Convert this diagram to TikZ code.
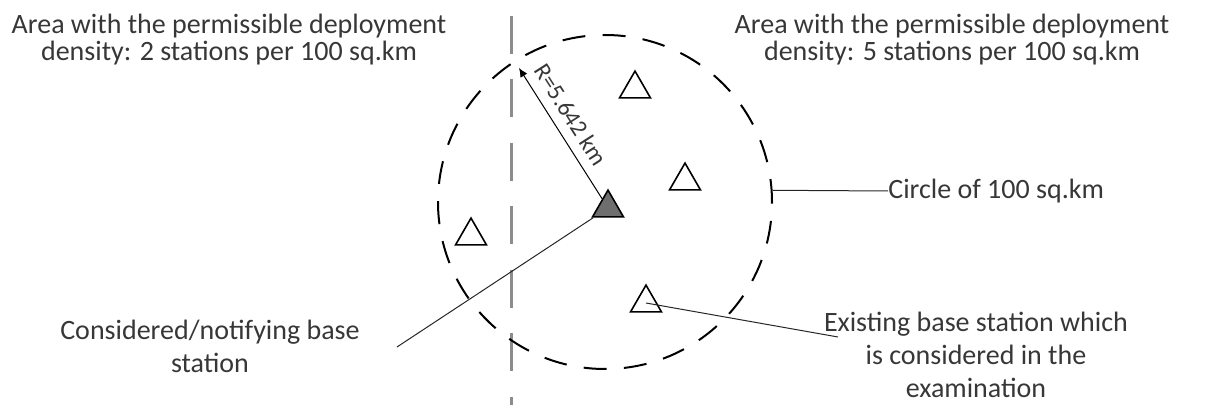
\documentclass[tikz,border=0pt]{standalone}
\usepackage{fontspec}
\setmainfont{Carlito}
\usepackage{xcolor}
\usetikzlibrary{arrows.meta,shapes.geometric,calc}

\definecolor{textgray}{RGB}{55,55,55}
\definecolor{bordergray}{RGB}{140,140,140}
\definecolor{stationfill}{RGB}{110,110,110}

\begin{document}
\begin{tikzpicture}[x=0.5pt,y=-0.5pt,
  station/.style={regular polygon, regular polygon sides=3, draw,
    line width=0.8pt, minimum size=17.9pt, inner sep=0pt},
  zone/.style={circle, draw, line width=1pt, minimum size=167pt,
    inner sep=0pt, dash pattern=on 11.5pt off 8.65pt},
  caption/.style={align=center, inner sep=0pt, text=textgray,
    font=\fontsize{14}{13.5}\selectfont},
  callout/.style={align=center, inner sep=0pt, text=textgray,
    font=\fontsize{14}{16.5}\selectfont},
  leader/.style={line width=0.5pt, draw=black!85}]
  \useasboundingbox (0,0) rectangle (1206,405);

  % Border between the two areas
  \draw[bordergray, line width=1.5pt, dash pattern=on 19pt off 12.75pt]
    (511,16) -- (511,405);

  % Circle of 100 sq.km round the station
  \node[zone] (zone) at (605,202) {};

  % Stations
  \node[station, fill=stationfill] (bs) at (608,208) {};
  \node[station] (st1) at (635,89) {};
  \node[station] (st2) at (685,181) {};
  \node[station] (st3) at (471,236) {};
  \node[station] (st4) at (646,303) {};

  % Radius
  \coordinate (rtip) at (519,68);
  \draw[line width=0.5pt, -{Latex[length=4.5pt,width=4pt]}] (bs) -- (rtip);
  \node[rotate=-57.4, inner sep=0pt, text=textgray,
    font=\fontsize{12}{14}\selectfont] (rlabel) at (571,115) {R=5.642 km};

  % Area texts
  \node[caption, anchor=north] (areaL) at (229,14)
    {Area with the permissible deployment\\density: 2 stations per 100 sq.km};
  \node[caption, anchor=north] (areaR) at (952,14)
    {Area with the permissible deployment\\density: 5 stations per 100 sq.km};

  % Callouts
  \node[caption, anchor=west] (lblcirc) at (888,191) {Circle of 100 sq.km};
  \draw[leader] (zone.4) -- (lblcirc.west);

  \node[callout, anchor=north] (lblnot) at (210,320)
    {Considered/notifying base\\station};
  \coordinate (notend) at (397,347);
  \draw[leader] (bs) -- (notend);

  \node[callout, anchor=north] (lblex) at (976,312)
    {Existing base station which\\is considered in the\\examination};
  \coordinate (exend) at (838,337);
  \draw[leader] (st4.center) -- (exend);
\end{tikzpicture}
\end{document}
